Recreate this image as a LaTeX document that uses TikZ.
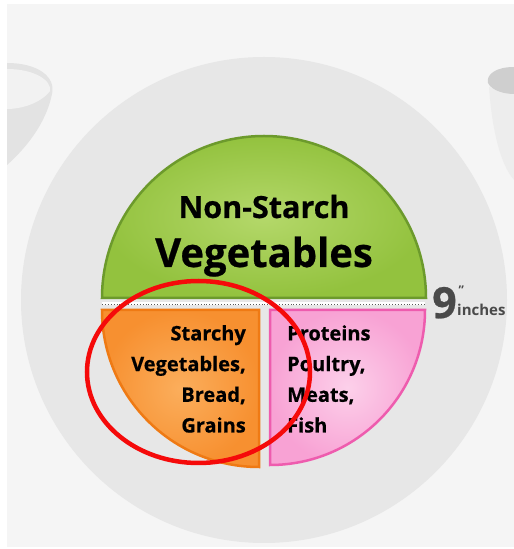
\documentclass[tikz,border=0pt]{standalone}
\usepackage{fontspec}
\setmainfont{Open Sans}
\newfontfamily\platefont[FakeBold=0.6]{Open Sans}
\usetikzlibrary{positioning}
\definecolor{bgcol}{HTML}{F5F5F5}
\definecolor{platecol}{HTML}{E7E7E7}
\definecolor{greenin}{HTML}{B4D86A}
\definecolor{greenout}{HTML}{93C23E}
\definecolor{greenrim}{HTML}{6C9A2C}
\definecolor{orangein}{HTML}{FBAE5C}
\definecolor{orangeout}{HTML}{F79030}
\definecolor{orangerim}{HTML}{EF7A14}
\definecolor{pinkin}{HTML}{FCD0EA}
\definecolor{pinkout}{HTML}{F8A2D4}
\definecolor{pinkrim}{HTML}{EE5CAE}
\definecolor{inchgray}{HTML}{4A4A4A}
\definecolor{ringred}{HTML}{F50A0A}

\begin{document}
\begin{tikzpicture}[x=1pt,y=1pt,
  lbl/.style={inner sep=0pt,text=black},
  big/.style={lbl,font=\platefont\fontsize{40}{44}\selectfont\bfseries},
  mid/.style={lbl,font=\platefont\fontsize{30.5}{32}\selectfont\bfseries},
  small/.style={lbl,font=\platefont\fontsize{20}{30.7}\selectfont\bfseries},
  sect/.style={line width=2.5pt}]
  \useasboundingbox (0,0) rectangle (514,549);
  \fill[white] (0,0) rectangle (514,549);
  \fill[bgcol] (7,2) rectangle (514,545);
  % bowls
  \fill[gray!22] (7,486) .. controls (38,486) and (56,472) .. (52,455)
    .. controls (46,425) and (25,400) .. (7,384) -- cycle;
  \fill[gray!10] (7,480) .. controls (35,480) and (52,468) .. (50,458)
    .. controls (40,445) and (20,440) .. (7,440) -- cycle;
  \fill[gray!14] (514,456) -- (489,462) .. controls (492,420) and (500,385) .. (514,369) -- cycle;
  \fill[gray!38] (514,482) .. controls (495,482) and (486,474) .. (488,466)
    .. controls (492,458) and (505,455) .. (514,455) -- cycle;
  % plate
  \fill[platecol] (264,249) circle[radius=243pt];
  % sections
  \shade[sect,draw=greenrim,inner color=greenin,outer color=greenout]
    (102,251) arc[start angle=180,end angle=0,radius=162pt] -- cycle;
  \draw[white,line width=3pt] (102,245) -- (425,245);
  \draw[gray!70!black,dotted,line width=0.9pt] (102,245) -- (425,245);
  \shade[sect,draw=orangerim,inner color=orangein,outer color=orangeout]
    (259,239) -- (102,239) arc[start angle=180,end angle=270,radius=157pt] -- cycle;
  \shade[sect,draw=pinkrim,inner color=pinkin,outer color=pinkout]
    (270,239) -- (425,239) arc[start angle=0,end angle=-90,radius=155pt] -- cycle;
  % labels
  \node[mid,anchor=base] (nonstarch) at (264,331) {Non-Starch};
  \node[big,anchor=base] (vegtitle) at (264,282) {Vegetables};
  \node[small,anchor=north east,align=right] (starchy) at (246,224)
    {Starchy\\Vegetables,\\Bread,\\Grains};
  \node[small,anchor=north west,align=left] (proteins) at (287,224)
    {Proteins\\Poultry,\\Meats,\\Fish};
  \node[lbl,text=inchgray,font=\platefont\fontsize{43}{43}\selectfont\bfseries,anchor=base west] (nine) at (432,231) {9};
  \node[lbl,text=inchgray,font=\fontsize{15}{15}\selectfont\bfseries,anchor=base west] (inchlbl) at (457,233) {inches};
  \node[lbl,text=inchgray,font=\fontsize{12}{12}\selectfont\bfseries,anchor=north west] (primes) at (458.5,263) {''};
  % highlight
  \draw[ringred,line width=4.5pt] (198.5,177) ellipse[x radius=111.5pt,y radius=91pt];
\end{tikzpicture}
\end{document}
